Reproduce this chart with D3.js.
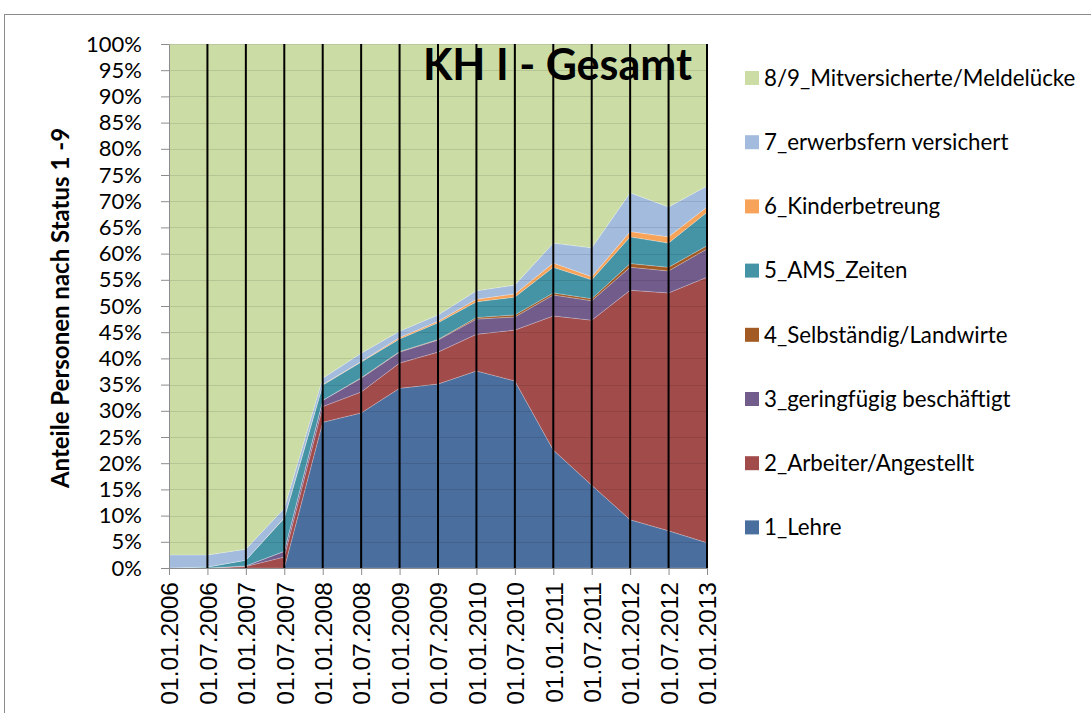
<!DOCTYPE html>
<html>
<head>
<meta charset="utf-8">
<script src="https://cdn.jsdelivr.net/npm/d3@7"></script>
<style>
  body { margin: 0; background: #fff; }
  svg { display: block; }
</style>
</head>
<body>
<div id="chart"></div>
<script>
// chart size
var svgWidth = 1091;
var svgHeight = 713;

var margin = { top: 44, left: 169, right: 384, bottom: 145 };
var width = 707 - margin.left;
var height = 568 - margin.top;

// data (percent per status group)
var dates = ["01.01.2006", "01.07.2006", "01.01.2007", "01.07.2007", "01.01.2008",
  "01.07.2008", "01.01.2009", "01.07.2009", "01.01.2010", "01.07.2010",
  "01.01.2011", "01.07.2011", "01.01.2012", "01.07.2012", "01.01.2013"];

var lehre       = [0, 0, 0, 0, 27.8, 29.6, 34.3, 35.1, 37.6, 35.7, 22.5, 15.8, 9.2, 7.1, 4.8];
var arbeiter    = [0, 0, 0.3, 2.1, 3.0, 4.0, 4.8, 6.1, 7.0, 9.7, 25.6, 31.5, 43.8, 45.4, 50.7];
var geringfuegig = [0, 0, 0.1, 1.1, 1.2, 2.6, 2.1, 2.3, 2.9, 2.5, 4.0, 3.7, 4.4, 4.2, 5.4];
var selbstaendig = [0, 0, 0, 0, 0, 0.1, 0.1, 0.1, 0.3, 0.4, 0.4, 0.4, 0.7, 0.7, 0.6];
var ams         = [0, 0.2, 1.1, 6.3, 2.9, 3.0, 2.4, 3.2, 3.0, 3.4, 4.9, 3.6, 5.1, 4.6, 6.4];
var kinder      = [0, 0, 0, 0.1, 0.1, 0.1, 0.3, 0.3, 0.5, 0.6, 0.8, 0.6, 1.0, 1.2, 1.0];
var erwerbsfern = [2.5, 2.3, 2.1, 1.8, 1.2, 1.6, 1.2, 1.2, 1.6, 1.7, 3.8, 5.5, 7.4, 5.7, 4.0];

var yTicks = d3.range(0, 101, 5);

var seriesNames = ["1_Lehre", "2_Arbeiter/Angestellt", "3_geringfügig beschäftigt",
  "4_Selbständig/Landwirte", "5_AMS_Zeiten", "6_Kinderbetreung",
  "7_erwerbsfern versichert", "8/9_Mitversicherte/Meldelücke"];
var seriesColors = ["#4a6e9d", "#a24b4b", "#725c8c", "#a25b25", "#4594a6",
  "#f8a35a", "#a3bcdd", "#cbdca5"];

// build rows; the last group fills up to 100%
var rows = dates.map(function (d, i) {
  var vals = [lehre[i], arbeiter[i], geringfuegig[i], selbstaendig[i], ams[i], kinder[i], erwerbsfern[i]];
  var row = { date: d };
  vals.forEach(function (v, k) { row[seriesNames[k]] = v; });
  row[seriesNames[7]] = 100 - d3.sum(vals);
  return row;
});

var stacked = d3.stack().keys(seriesNames)(rows);

var svg = d3.select("#chart")
  .append("svg")
  .attr("width", svgWidth)
  .attr("height", svgHeight);

// outer chart frame
svg.append("rect")
  .attr("x", 4.5)
  .attr("y", 14.5)
  .attr("width", 1100)
  .attr("height", 720)
  .attr("fill", "none")
  .attr("stroke", "#8c8c8c")
  .attr("stroke-width", 1);

var chartGroup = svg.append("g")
  .attr("transform", `translate(${margin.left}, ${margin.top})`);

var x = d3.scalePoint()
  .domain(dates)
  .range([0, width]);

var y = d3.scaleLinear()
  .domain([0, 100])
  .range([height, 0]);

var area = d3.area()
  .x(d => x(d.data.date))
  .y0(d => y(d[0]))
  .y1(d => y(d[1]));

chartGroup.selectAll(".layer")
  .data(stacked)
  .enter()
  .append("path")
  .attr("class", "layer")
  .attr("d", area)
  .attr("fill", (d, i) => seriesColors[i])
  .attr("stroke", "rgba(255,255,255,0.35)")
  .attr("stroke-width", 0.6);

// faint gridlines showing through
chartGroup.selectAll(".grid")
  .data(yTicks.slice(1))
  .enter()
  .append("line")
  .attr("x1", 0)
  .attr("x2", width)
  .attr("y1", d => Math.round(y(d)) + 0.5)
  .attr("y2", d => Math.round(y(d)) + 0.5)
  .attr("stroke", "#000")
  .attr("stroke-opacity", 0.1);

// title
chartGroup.append("text")
  .attr("x", 523)
  .attr("y", 36)
  .attr("text-anchor", "end")
  .attr("font-family", "Lato, sans-serif")
  .attr("font-weight", "bold")
  .attr("font-size", 43)
  .attr("fill", "#000")
  .text("KH I - Gesamt");

// black vertical date lines
chartGroup.selectAll(".vline")
  .data(dates.slice(1))
  .enter()
  .append("line")
  .attr("x1", d => x(d))
  .attr("x2", d => x(d))
  .attr("y1", 0)
  .attr("y2", height)
  .attr("stroke", "#000")
  .attr("stroke-width", 2);

// y axis
var yAxis = chartGroup.append("g")
  .call(d3.axisLeft(y).tickValues(yTicks).tickFormat(d => d + "%").tickSize(8).tickSizeOuter(0));
yAxis.select(".domain").attr("stroke", "#8c8c8c");
yAxis.selectAll(".tick line").attr("stroke", "#8c8c8c");
yAxis.selectAll(".tick text")
  .attr("x", -27)
  .attr("font-family", "Lato, sans-serif")
  .attr("font-size", 22)
  .attr("fill", "#000");

// x axis
var xAxis = chartGroup.append("g")
  .attr("transform", `translate(0, ${height})`)
  .call(d3.axisBottom(x).tickSize(7).tickSizeOuter(0));
xAxis.select(".domain").attr("stroke", "#8c8c8c");
xAxis.selectAll(".tick line").attr("stroke", "#8c8c8c");
xAxis.selectAll(".tick text")
  .attr("transform", "rotate(-90)")
  .attr("text-anchor", "end")
  .attr("x", -14)
  .attr("y", 0)
  .attr("dy", "0.36em")
  .attr("font-family", "'Liberation Sans', Arial, sans-serif")
  .attr("font-size", 24.5)
  .attr("fill", "#000");

// y axis title
svg.append("text")
  .attr("transform", "translate(69, 308) rotate(-90)")
  .attr("text-anchor", "middle")
  .attr("font-family", "Lato, sans-serif")
  .attr("font-weight", "bold")
  .attr("font-size", 24)
  .attr("fill", "#000")
  .text("Anteile Personen nach Status 1 -9");

// legend, top entry is the last series
var legend = svg.append("g")
  .attr("transform", "translate(745, 78)");

var legendItems = legend.selectAll(".legend-item")
  .data(seriesNames.slice().reverse())
  .enter()
  .append("g")
  .attr("transform", (d, i) => `translate(0, ${i * 64.2})`);

legendItems.append("rect")
  .attr("x", 0)
  .attr("y", -7)
  .attr("width", 14)
  .attr("height", 14)
  .attr("fill", d => seriesColors[seriesNames.indexOf(d)]);

legendItems.append("text")
  .attr("x", 19)
  .attr("y", 0)
  .attr("dy", "0.35em")
  .attr("font-family", "Lato, sans-serif")
  .attr("font-size", 22.3)
  .attr("fill", "#000")
  .text(d => d);
</script>
</body>
</html>
